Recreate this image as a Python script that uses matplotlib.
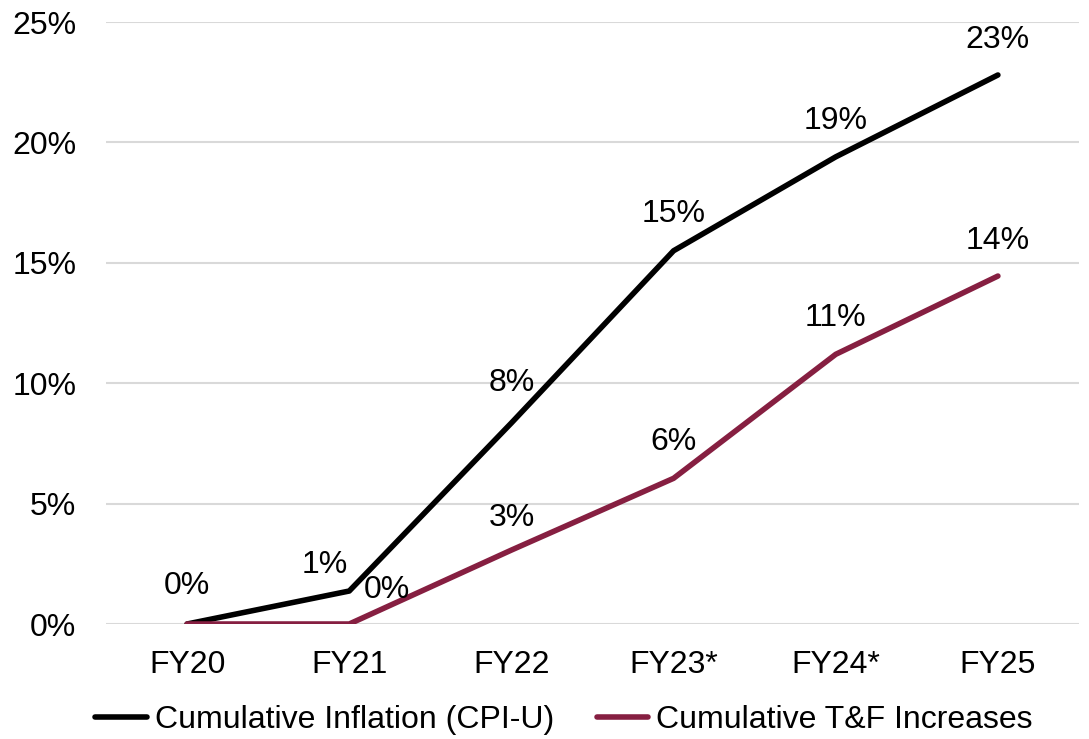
import matplotlib.pyplot as plt
from matplotlib.ticker import PercentFormatter

plt.rcParams['font.family'] = ['Liberation Sans', 'DejaVu Sans']

years = ['FY20', 'FY21', 'FY22', 'FY23*', 'FY24*', 'FY25']
cpi = [0.0, 1.37, 8.35, 15.5, 19.4, 22.8]
tf = [0.0, 0.0, 3.07, 6.05, 11.2, 14.45]
cpi_labels = ['0%', '1%', '8%', '15%', '19%', '23%']
tf_labels = ['', '0%', '3%', '6%', '11%', '14%']

black = '#000000'
maroon = '#861F41'
fs = 23

fig = plt.figure(figsize=(10.89, 7.39), dpi=100)
ax = fig.add_axes([106 / 1089, 1 - 624 / 739, 973 / 1089, 602 / 739])

x = range(len(years))
ax.plot(x, [v / 100 for v in cpi], color=black, lw=4.0, solid_capstyle='round',
        solid_joinstyle='round', label='Cumulative Inflation (CPI-U)', zorder=3)
ax.plot(x, [v / 100 for v in tf], color=maroon, lw=4.0, solid_capstyle='round',
        solid_joinstyle='round', label='Cumulative T&F Increases', zorder=3)

# label offsets in pixels (dx, dy), some nudged by hand as in the original
cpi_off = [(0, 38), (-25, 26), (0, 40), (0, 37), (0, 36), (0, 35)]
tf_off = [(0, 36), (38, 34), (0, 32), (0, 36), (0, 36), (0, 35)]
for i, (v, t) in enumerate(zip(cpi, cpi_labels)):
    ax.annotate(t, (i, v / 100), xytext=cpi_off[i], textcoords='offset pixels',
                ha='center', va='center', fontsize=fs)
for i, (v, t) in enumerate(zip(tf, tf_labels)):
    if t:
        ax.annotate(t, (i, v / 100), xytext=tf_off[i], textcoords='offset pixels',
                    ha='center', va='center', fontsize=fs)

ax.set_xlim(-0.5, 5.5)
ax.set_ylim(0, 0.25)
ax.set_yticks([0, 0.05, 0.10, 0.15, 0.20, 0.25])
ax.yaxis.set_major_formatter(PercentFormatter(1.0, decimals=0))
ax.set_xticks(list(x))
ax.set_xticklabels(years)
ax.tick_params(axis='both', length=0, labelsize=fs)
ax.tick_params(axis='x', pad=19)
ax.tick_params(axis='y', pad=21.5)
ax.grid(axis='y', color='#D9D9D9', lw=1.5)
ax.set_axisbelow(True)
for s in ax.spines.values():
    s.set_visible(False)

fig.legend(loc='center', bbox_to_anchor=(564 / 1089, 1 - 720 / 739), ncol=2, frameon=False,
           fontsize=fs, handlelength=1.6, handletextpad=0.25, columnspacing=1.35)

fig.savefig('out.png', dpi=100)
